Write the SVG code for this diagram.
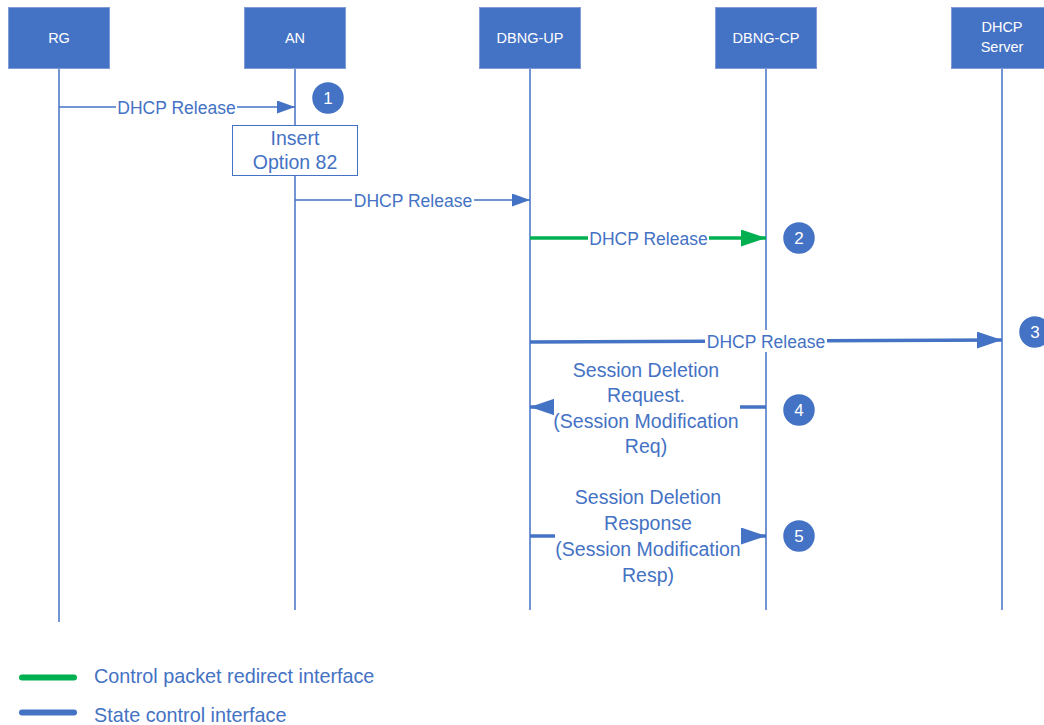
<svg xmlns="http://www.w3.org/2000/svg" width="1044" height="725" viewBox="0 0 1044 725">
  <defs>
    <style>
      .hdr { fill: #4472C4; stroke: #7F9CD6; stroke-width: 1; }
      .hdr-t { fill: #FFFFFF; font-family: "Liberation Sans", Arial, sans-serif; font-size: 14.5px; text-anchor: middle; }
      .life { stroke: #4472C4; stroke-width: 1.5; fill: none; }
      .msg-thin { stroke: #4472C4; stroke-width: 1.5; fill: none; }
      .msg-blue { stroke: #4472C4; stroke-width: 3.5; fill: none; }
      .msg-green { stroke: #00B050; stroke-width: 3.5; fill: none; }
      .lbl { fill: #4472C4; font-family: "Liberation Sans", Arial, sans-serif; font-size: 17.5px; text-anchor: middle; }
      .lbl-l { fill: #4472C4; font-family: "Liberation Sans", Arial, sans-serif; font-size: 19.5px; text-anchor: middle; }
      .lbl-bg { fill: #FFFFFF; }
      .step { fill: #4472C4; stroke: #FFFFFF; stroke-width: 1.5; }
      .step-t { fill: #FFFFFF; font-family: "Liberation Sans", Arial, sans-serif; font-size: 17px; text-anchor: middle; }
      .legend-t { fill: #4472C4; font-family: "Liberation Sans", Arial, sans-serif; font-size: 19.8px; }
    </style>
    <marker id="head-thin" markerUnits="userSpaceOnUse" markerWidth="18" markerHeight="13" refX="18" refY="6.5" orient="auto">
      <path d="M0,0 L18,6.5 L0,13 z" fill="#4472C4"/>
    </marker>
    <marker id="head-blue" markerUnits="userSpaceOnUse" markerWidth="25" markerHeight="17" refX="25" refY="8.5" orient="auto">
      <path d="M0,0 L25,8.5 L0,17 z" fill="#4472C4"/>
    </marker>
    <marker id="head-green" markerUnits="userSpaceOnUse" markerWidth="25" markerHeight="17" refX="25" refY="8.5" orient="auto">
      <path d="M0,0 L25,8.5 L0,17 z" fill="#00B050"/>
    </marker>
  </defs>

  <rect width="1044" height="725" fill="#FFFFFF"/>

  <!-- lifelines -->
  <g id="lifelines">
    <line class="life" x1="59" y1="68" x2="59" y2="622"/>
    <line class="life" x1="295" y1="68" x2="295" y2="610"/>
    <line class="life" x1="530" y1="68" x2="530" y2="610"/>
    <line class="life" x1="766" y1="68" x2="766" y2="610"/>
    <line class="life" x1="1002" y1="68" x2="1002" y2="610"/>
  </g>

  <!-- participants -->
  <g id="node-rg">
    <rect class="hdr" x="8.5" y="7.5" width="101" height="61"/>
    <text class="hdr-t" x="59" y="43">RG</text>
  </g>
  <g id="node-an">
    <rect class="hdr" x="244.5" y="7.5" width="101" height="61"/>
    <text class="hdr-t" x="295" y="43">AN</text>
  </g>
  <g id="node-dbng-up">
    <rect class="hdr" x="479.5" y="7.5" width="101" height="61"/>
    <text class="hdr-t" x="530" y="43">DBNG-UP</text>
  </g>
  <g id="node-dbng-cp">
    <rect class="hdr" x="715.5" y="7.5" width="101" height="61"/>
    <text class="hdr-t" x="766" y="43">DBNG-CP</text>
  </g>
  <g id="node-dhcp-server">
    <rect class="hdr" x="951.5" y="7.5" width="101" height="61"/>
    <text class="hdr-t" x="1002" y="32">DHCP</text>
    <text class="hdr-t" x="1002" y="52">Server</text>
  </g>

  <!-- messages -->
  <g id="connectors">
    <!-- RG -> AN -->
    <line class="msg-thin" x1="59" y1="107" x2="295" y2="107" marker-end="url(#head-thin)"/>
    <rect class="lbl-bg" x="116" y="96" width="121" height="22"/>
    <text class="lbl" x="176.5" y="113.5">DHCP Release</text>

    <!-- AN -> DBNG-UP -->
    <line class="msg-thin" x1="295" y1="200" x2="530" y2="200" marker-end="url(#head-thin)"/>
    <rect class="lbl-bg" x="352" y="189" width="122" height="22"/>
    <text class="lbl" x="413" y="206.5">DHCP Release</text>

    <!-- DBNG-UP -> DBNG-CP (redirect) -->
    <line class="msg-green" x1="530" y1="238" x2="766" y2="238" marker-end="url(#head-green)"/>
    <rect class="lbl-bg" x="588" y="227" width="121" height="22"/>
    <text class="lbl" x="648.5" y="244.5">DHCP Release</text>

    <!-- DBNG-UP -> DHCP Server -->
    <line class="msg-blue" x1="530" y1="342" x2="1002" y2="340" marker-end="url(#head-blue)"/>
    <rect class="lbl-bg" x="705" y="330" width="122" height="22"/>
    <text class="lbl" x="766" y="347.5">DHCP Release</text>

    <!-- DBNG-CP -> DBNG-UP -->
    <line class="msg-blue" x1="766" y1="407" x2="530" y2="407" marker-end="url(#head-blue)"/>
    <rect class="lbl-bg" x="554" y="358" width="186" height="100"/>
    <text class="lbl-l" x="646" y="376.5">Session Deletion</text>
    <text class="lbl-l" x="646" y="402">Request.</text>
    <text class="lbl-l" x="646" y="427.5">(Session Modification</text>
    <text class="lbl-l" x="646" y="453">Req)</text>

    <!-- DBNG-UP -> DBNG-CP -->
    <line class="msg-blue" x1="530" y1="536" x2="766" y2="536" marker-end="url(#head-blue)"/>
    <rect class="lbl-bg" x="555" y="485" width="186" height="100"/>
    <text class="lbl-l" x="648" y="503.5">Session Deletion</text>
    <text class="lbl-l" x="648" y="529.5">Response</text>
    <text class="lbl-l" x="648" y="555.5">(Session Modification</text>
    <text class="lbl-l" x="648" y="581.5">Resp)</text>
  </g>

  <!-- processing note on AN -->
  <g id="note-option82">
    <rect x="232.5" y="125.5" width="125" height="50" fill="#FFFFFF" stroke="#4472C4" stroke-width="1"/>
    <text class="lbl-l" x="295" y="144.5">Insert</text>
    <text class="lbl-l" x="295" y="169">Option 82</text>
  </g>

  <!-- step markers -->
  <g id="step-1">
    <circle class="step" cx="328" cy="98" r="16.5"/>
    <text class="step-t" x="328" y="104">1</text>
  </g>
  <g id="step-2">
    <circle class="step" cx="799" cy="238" r="16.5"/>
    <text class="step-t" x="799" y="244">2</text>
  </g>
  <g id="step-3">
    <circle class="step" cx="1035" cy="332" r="16.5"/>
    <text class="step-t" x="1035" y="338">3</text>
  </g>
  <g id="step-4">
    <circle class="step" cx="799" cy="410" r="16.5"/>
    <text class="step-t" x="799" y="416">4</text>
  </g>
  <g id="step-5">
    <circle class="step" cx="799" cy="536" r="16.5"/>
    <text class="step-t" x="799" y="542">5</text>
  </g>

  <!-- legend -->
  <g id="legend">
    <line x1="22" y1="677.5" x2="74" y2="677.5" stroke="#00B050" stroke-width="6" stroke-linecap="round"/>
    <text class="legend-t" x="94" y="683">Control packet redirect interface</text>
    <line x1="22" y1="712.5" x2="74" y2="712.5" stroke="#4472C4" stroke-width="6" stroke-linecap="round"/>
    <text class="legend-t" x="94" y="721.5">State control interface</text>
  </g>
</svg>
